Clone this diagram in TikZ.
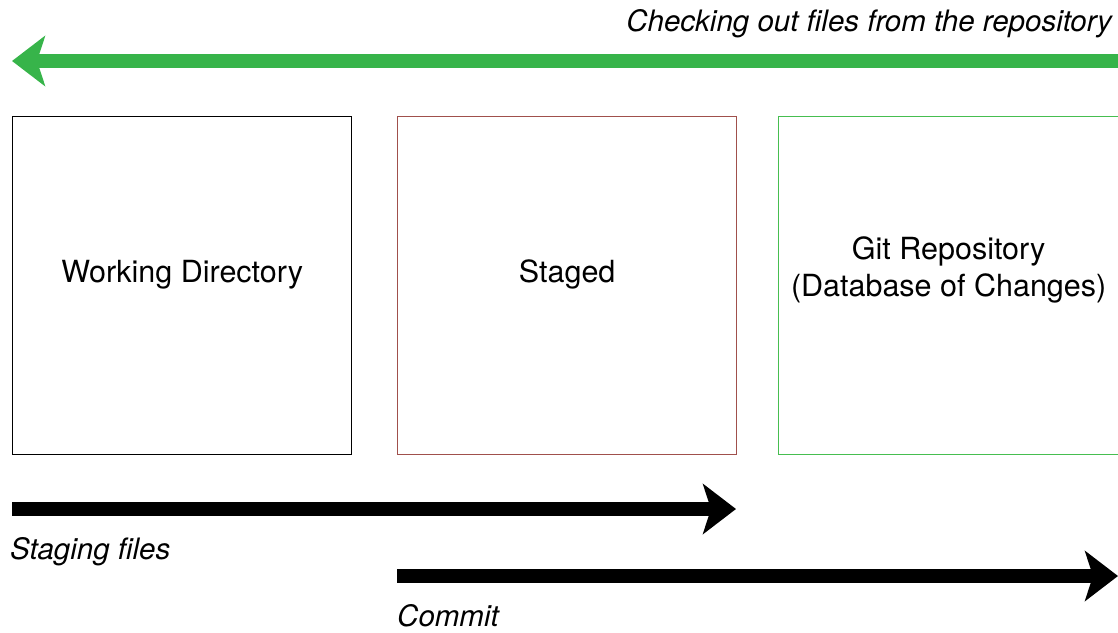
\documentclass[tikz,border=0pt]{standalone}
\usepackage{fontspec}
\setmainfont{TeX Gyre Heros}
\usepackage{tikz}
\usetikzlibrary{arrows.meta,positioning,calc}

\definecolor{checkgreen}{RGB}{55,180,74}
\definecolor{stagedred}{RGB}{160,80,76}
\definecolor{repogreen}{RGB}{70,190,80}

\tikzset{
  area/.style={draw, line width=1.3pt, minimum width=339pt, minimum height=338pt,
    inner sep=0pt},
  areatext/.style={align=center, inner sep=0pt, font=\fontsize{30.5}{37}\selectfont},
  flow/.style={line width=14pt, -{Stealth[length=33pt,width=50pt,inset=8pt]}},
  lbl/.style={font=\fontsize{29.5}{34}\selectfont\itshape, inner sep=0pt}
}

\begin{document}
\begin{tikzpicture}[x=1pt,y=-1pt]
    \useasboundingbox (0,0) rectangle (1118,632);

    \node[area, anchor=north west] (wd) at (12,116) {};
    \node[area, anchor=north west, draw=stagedred] (st) at (397,116) {};
    \node[area, anchor=north west, draw=repogreen, minimum width=340pt] (repo) at (778,116) {};

    \node[areatext] (wdText) at ($(wd.center)+(0,-11)$) {Working Directory};
    \node[areatext] (stText) at ($(st.center)+(0,-11)$) {Staged};
    \node[areatext] (repoText) at ($(repo.center)+(0,-16)$) {Git Repository\\(Database of Changes)};

    % checkout arrow
    \coordinate (coStart) at (1118,61);
    \coordinate (coEnd) at (12,61);
    \draw[flow, checkgreen] (coStart) -- (coEnd);
    \node[lbl, anchor=base east] (coLbl) at (1112,31) {Checking out files from the repository};

    % staging arrow
    \coordinate (sgStart) at (12,509);
    \coordinate (sgEnd) at (736,509);
    \draw[flow] (sgStart) -- (sgEnd);
    \node[lbl, anchor=base west] (sgLbl) at (10,559) {Staging files};

    % commit arrow
    \coordinate (cmStart) at (397,576);
    \coordinate (cmEnd) at (1118,576);
    \draw[flow] (cmStart) -- (cmEnd);
    \node[lbl, anchor=base west] (cmLbl) at (397,626) {Commit};
\end{tikzpicture}
\end{document}
